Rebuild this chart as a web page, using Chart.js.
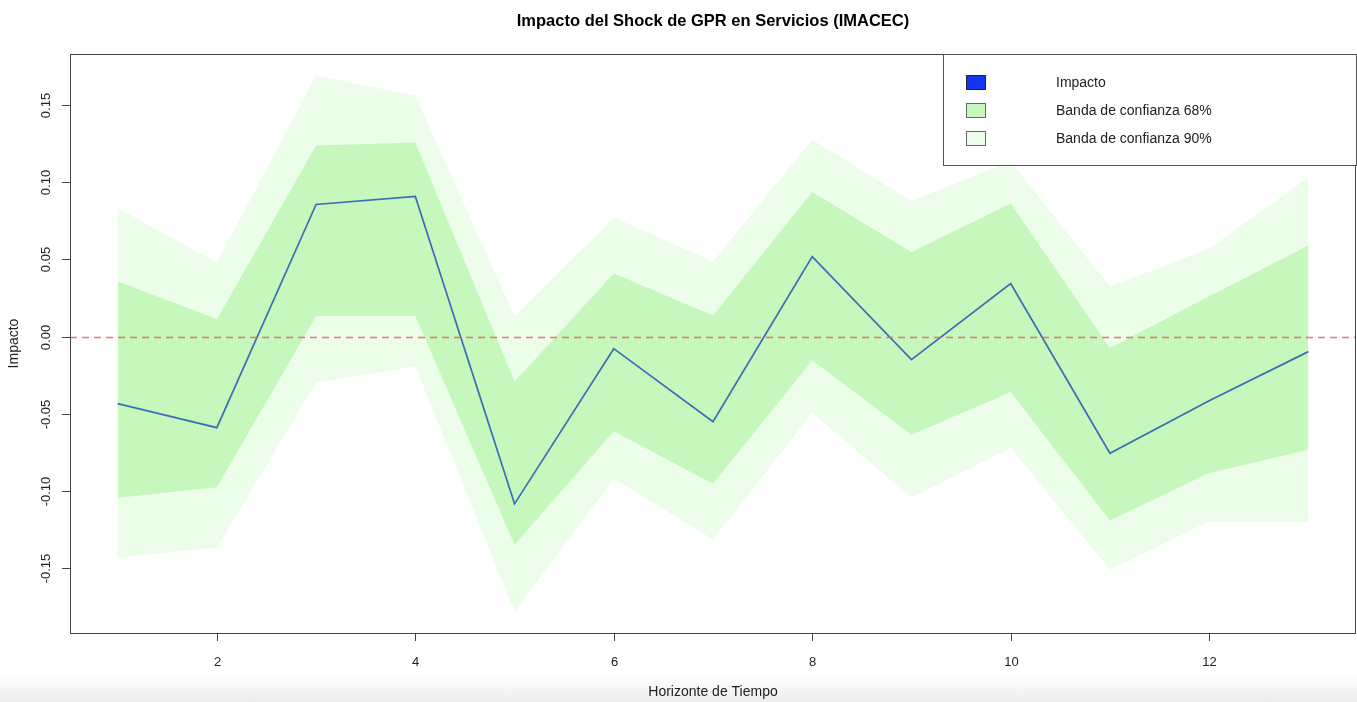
<!DOCTYPE html>
<html>
<head>
<meta charset="utf-8">
<title>Impacto del Shock de GPR en Servicios (IMACEC)</title>
<script src="https://cdn.jsdelivr.net/npm/chart.js@4"></script>
<style>
  html, body { margin: 0; padding: 0; }
  body {
    width: 1357px; height: 702px; overflow: hidden;
    background: linear-gradient(to bottom, #ffffff 0px, #ffffff 676px, #ececec 702px);
  }
  #wrap { position: relative; width: 1357px; height: 702px; }
</style>
</head>
<body>
<div id="wrap"><canvas id="chart" width="1357" height="702"></canvas></div>
<script>
// Horizonte de tiempo (periodos tras el shock)
const horizon = [1, 2, 3, 4, 5, 6, 7, 8, 9, 10, 11, 12, 13];

// Respuesta al impulso estimada
const impacto = [-0.0434, -0.0589, 0.0855, 0.0907, -0.1082, -0.0078, -0.0551, 0.0518, -0.0149, 0.0343, -0.0755, -0.0415, -0.0097];

// Banda de confianza 68%
const banda68Sup = [0.0359, 0.0113, 0.1237, 0.1256, -0.0291, 0.0408, 0.0136, 0.0936, 0.0547, 0.0861, -0.0074, 0.0262, 0.0589];
const banda68Inf = [-0.1043, -0.0975, 0.0133, 0.0133, -0.1347, -0.0613, -0.0952, -0.0155, -0.0635, -0.0358, -0.1190, -0.0883, -0.0732];

// Banda de confianza 90%
const banda90Sup = [0.0832, 0.0479, 0.1690, 0.1558, 0.0131, 0.0771, 0.0486, 0.1276, 0.0878, 0.1133, 0.0324, 0.0570, 0.1030];
const banda90Inf = [-0.1431, -0.1363, -0.0295, -0.0193, -0.1779, -0.0920, -0.1312, -0.0492, -0.1043, -0.0719, -0.1509, -0.1196, -0.1196];

// Marcas de los ejes
const xTicks = [2, 4, 6, 8, 10, 12];
const yTicks = [-0.15, -0.10, -0.05, 0.00, 0.05, 0.10, 0.15];

const legendItems = ["Impacto", "Banda de confianza 68%", "Banda de confianza 90%"];

const COL_LINE = "#3b6eb4";
const COL_68 = "#c6f7bd";
const COL_90 = "#ecfdea";
const COL_LEG_LINE = "#1536f0";
const FONT = "'Liberation Sans', Arial, Helvetica, sans-serif";

const pts = arr => horizon.map((h, i) => ({ x: h, y: arr[i] }));

// extend the data range by 4% on each side, as base R plots do
const allY = banda90Sup.concat(banda90Inf);
const yLo = Math.min(...allY), yHi = Math.max(...allY);
const xLo = Math.min(...horizon), xHi = Math.max(...horizon);
const yPad = (yHi - yLo) * 0.04, xPad = (xHi - xLo) * 0.04;

const rStyle = {
  id: "rStyle",
  afterDatasetsDraw(chart) {
    const { ctx, chartArea: a, scales: { y } } = chart;
    // reference line at zero
    ctx.save();
    ctx.beginPath();
    ctx.rect(a.left, a.top, a.right - a.left, a.bottom - a.top);
    ctx.clip();
    const y0 = Math.round(y.getPixelForValue(0)) + 0.5;
    ctx.strokeStyle = "#e8625f";
    ctx.globalAlpha = 0.85;
    ctx.lineWidth = 1.3;
    ctx.setLineDash([7, 5]);
    ctx.beginPath();
    ctx.moveTo(a.left, y0);
    ctx.lineTo(a.right, y0);
    ctx.stroke();
    ctx.restore();
  },
  afterDraw(chart) {
    const { ctx, chartArea: a, scales: { x, y } } = chart;
    ctx.save();
    // frame
    ctx.strokeStyle = "#444";
    ctx.lineWidth = 1;
    ctx.strokeRect(a.left + 0.5, a.top + 0.5, a.right - a.left - 1, a.bottom - a.top);

    // x axis ticks and labels
    ctx.fillStyle = "#222";
    ctx.font = "13px " + FONT;
    ctx.textAlign = "center";
    ctx.textBaseline = "middle";
    xTicks.forEach(v => {
      const px = Math.round(x.getPixelForValue(v)) + 0.5;
      ctx.beginPath();
      ctx.moveTo(px, a.bottom);
      ctx.lineTo(px, a.bottom + 8);
      ctx.stroke();
      ctx.fillText(String(v), px, a.bottom + 29);
    });

    // y axis ticks and vertical labels
    yTicks.forEach(v => {
      const py = Math.round(y.getPixelForValue(v)) + 0.5;
      ctx.beginPath();
      ctx.moveTo(a.left - 8, py);
      ctx.lineTo(a.left, py);
      ctx.stroke();
      ctx.save();
      ctx.translate(a.left - 24, py);
      ctx.rotate(-Math.PI / 2);
      ctx.fillText(v.toFixed(2), 0, 0);
      ctx.restore();
    });

    // axis titles
    ctx.font = "14px " + FONT;
    ctx.fillText("Horizonte de Tiempo", (a.left + a.right) / 2, 692);
    ctx.save();
    ctx.translate(14, (a.top + a.bottom) / 2);
    ctx.rotate(-Math.PI / 2);
    ctx.fillText("Impacto", 0, 0);
    ctx.restore();

    // title
    ctx.font = "bold 16.5px " + FONT;
    ctx.fillStyle = "#000";
    ctx.fillText("Impacto del Shock de GPR en Servicios (IMACEC)", (a.left + a.right) / 2, 21);

    // legend box in the top-right corner
    const lx = a.right - 413, ly = a.top, lw = 413, lh = 111;
    ctx.fillStyle = "#fff";
    ctx.fillRect(lx, ly, lw, lh);
    ctx.strokeStyle = "#555";
    ctx.strokeRect(lx + 0.5, ly + 0.5, lw, lh);
    const fills = [COL_LEG_LINE, COL_68, COL_90];
    ctx.font = "14px " + FONT;
    ctx.textAlign = "left";
    legendItems.forEach((t, i) => {
      const cy = ly + 28 + i * 28;
      ctx.fillStyle = fills[i];
      ctx.fillRect(lx + 23, cy - 7, 19, 14);
      ctx.strokeStyle = i === 0 ? "#223" : "#667";
      ctx.strokeRect(lx + 23.5, cy - 6.5, 19, 14);
      ctx.fillStyle = "#222";
      ctx.fillText(t, lx + 113, cy + 1);
    });
    ctx.restore();
  }
};

new Chart(document.getElementById("chart"), {
  type: "line",
  data: {
    datasets: [
      { label: "Impacto", data: pts(impacto), borderColor: COL_LINE, borderWidth: 1.7, pointRadius: 0, fill: false, tension: 0 },
      { label: "Banda de confianza 68%", data: pts(banda68Sup), borderWidth: 0, borderColor: "rgba(0,0,0,0)", backgroundColor: COL_68, pointRadius: 0, fill: "+1" },
      { label: "68% inf", data: pts(banda68Inf), borderWidth: 0, borderColor: "rgba(0,0,0,0)", pointRadius: 0, fill: false },
      { label: "Banda de confianza 90%", data: pts(banda90Sup), borderWidth: 0, borderColor: "rgba(0,0,0,0)", backgroundColor: COL_90, pointRadius: 0, fill: "+1" },
      { label: "90% inf", data: pts(banda90Inf), borderWidth: 0, borderColor: "rgba(0,0,0,0)", pointRadius: 0, fill: false }
    ]
  },
  options: {
    responsive: false,
    animation: false,
    events: [],
    layout: { padding: { left: 0, right: 1, top: 54, bottom: 0 } },
    plugins: { legend: { display: false }, tooltip: { enabled: false }, title: { display: false } },
    scales: {
      x: {
        type: "linear",
        min: xLo - xPad, max: xHi + xPad,
        grid: { display: false },
        border: { display: false },
        ticks: { display: false },
        afterBuildTicks: s => { s.ticks = xTicks.map(v => ({ value: v })); },
        afterFit: s => { s.height = 69; }
      },
      y: {
        type: "linear",
        min: yLo - yPad, max: yHi + yPad,
        grid: { display: false },
        border: { display: false },
        ticks: { display: false },
        afterBuildTicks: s => { s.ticks = yTicks.map(v => ({ value: v })); },
        afterFit: s => { s.width = 70; }
      }
    }
  },
  plugins: [rStyle]
});
</script>
</body>
</html>
